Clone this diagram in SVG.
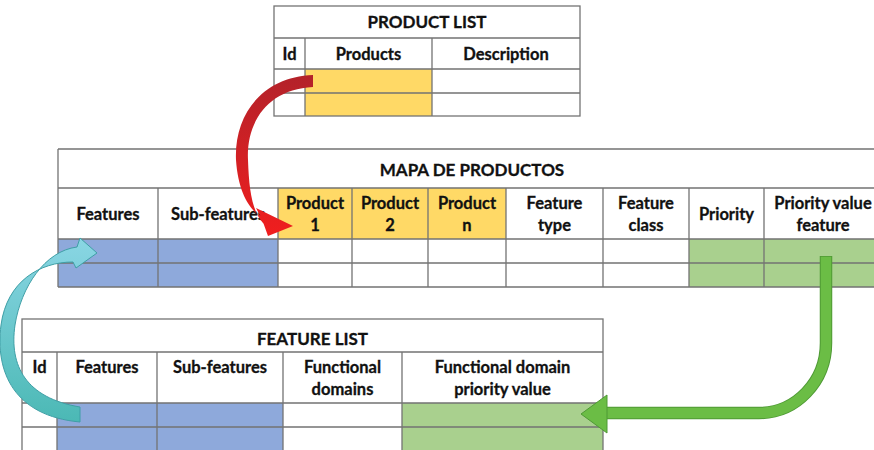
<svg xmlns="http://www.w3.org/2000/svg" width="874" height="450" viewBox="0 0 874 450">
  <style>
    .grid { fill: none; stroke: #737373; stroke-width: 1.3; }
    .t { font-family: Lato, "Liberation Sans", sans-serif; font-weight: bold; font-size: 16.5px; fill: #111; stroke: #111; stroke-width: 0.3; text-anchor: middle; }
    .title { font-size: 17px; }
    .yel { fill: #FFD966; }
    .blu { fill: #8EA9DB; }
    .grn { fill: #A9D08E; }
  </style>
  <defs>
    <linearGradient id="redGrad" gradientUnits="userSpaceOnUse" x1="0" y1="75" x2="0" y2="235">
      <stop offset="0" stop-color="#b3222a"/>
      <stop offset="1" stop-color="#f01e1e"/>
    </linearGradient>
    <linearGradient id="cyanGrad" gradientUnits="userSpaceOnUse" x1="0" y1="238" x2="0" y2="425">
      <stop offset="0" stop-color="#8ad6e4"/>
      <stop offset="1" stop-color="#4ab8b4"/>
    </linearGradient>
  </defs>

  <rect width="874" height="450" fill="#ffffff"/>

  <!-- Product list table -->
  <g id="product-list">
    <rect class="yel" x="305" y="69" width="127" height="47"/>
    <rect class="grid" x="274" y="6" width="306" height="110"/>
    <path class="grid" d="M274,38H580M274,69H580M274,93H580M305,38V116M432,38V116"/>
    <text class="t title" x="427" y="28">PRODUCT LIST</text>
    <text class="t" x="289.5" y="60">Id</text>
    <text class="t" x="368.5" y="60">Products</text>
    <text class="t" x="506" y="60">Description</text>
  </g>

  <!-- Product map table -->
  <g id="mapa-de-productos">
    <rect class="blu" x="58" y="239" width="220" height="48"/>
    <rect class="yel" x="278" y="188" width="228" height="51"/>
    <rect class="grn" x="689" y="239" width="190" height="48"/>
    <path class="grid" d="M58,149H880M58,188H880M58,239H880M58,263H880M58,287H880M58,149V287
      M158,188V287M278,188V287M352,188V287M428,188V287M506,188V287M603,188V287M689,188V287M764,188V287"/>
    <text class="t title" x="472" y="176">MAPA DE PRODUCTOS</text>
    <text class="t" x="108" y="220">Features</text>
    <text class="t" x="218" y="220">Sub-features</text>
    <text class="t" x="315" y="209">Product</text>
    <text class="t" x="315" y="231">1</text>
    <text class="t" x="390" y="209">Product</text>
    <text class="t" x="390" y="231">2</text>
    <text class="t" x="467" y="209">Product</text>
    <text class="t" x="467" y="231">n</text>
    <text class="t" x="554.5" y="209">Feature</text>
    <text class="t" x="554.5" y="231">type</text>
    <text class="t" x="646" y="209">Feature</text>
    <text class="t" x="646" y="231">class</text>
    <text class="t" x="726.5" y="220">Priority</text>
    <text class="t" x="823" y="209">Priority value</text>
    <text class="t" x="823" y="231">feature</text>
  </g>

  <!-- Feature list table -->
  <g id="feature-list">
    <rect class="blu" x="57" y="403" width="226" height="48"/>
    <rect class="grn" x="402" y="403" width="201" height="48"/>
    <rect class="grid" x="22" y="319" width="581" height="132"/>
    <path class="grid" d="M22,352H603M22,403H603M22,427H603M57,352V451M157,352V451M283,352V451M402,352V451"/>
    <text class="t title" x="312.5" y="345">FEATURE LIST</text>
    <text class="t" x="39.5" y="373">Id</text>
    <text class="t" x="107" y="373">Features</text>
    <text class="t" x="220" y="373">Sub-features</text>
    <text class="t" x="342.5" y="373">Functional</text>
    <text class="t" x="342.5" y="395">domains</text>
    <text class="t" x="502.5" y="373">Functional domain</text>
    <text class="t" x="502.5" y="395">priority value</text>
  </g>

  <!-- Connectors -->
  <g id="connectors">
    <!-- products into the map -->
    <path id="arrow-products" fill="url(#redGrad)"
      d="M313,75 C262,77 234,115 236,160 C238,190 248,208 260.4,216.3 L256,208 L293,226 L268,236 L263.6,223.7 C252,211 249,190 248,160 C246,122 268,89 313,87 Z"/>
    <!-- features into the map -->
    <path id="arrow-features" fill="url(#cyanGrad)" stroke="#3f9fa6" stroke-width="1"
      d="M80,422 C14,416 -5,372 1,325 C7,281 40,262 73,262 L76,268 L97,253 L80,238 L77,247 C45,251 21,287 15,325 C9,366 26,398 80,407 Z"/>
    <!-- priority back to feature list -->
    <g id="arrow-priority">
      <path d="M826,256 V343 A67,70 0 0 1 759,413 H606" fill="none" stroke="#4f9a35" stroke-width="12.5"/>
      <path d="M826,256.8 V343 A67,70 0 0 1 759,413 H605" fill="none" stroke="#6bbd45" stroke-width="10.5"/>
      <polygon points="607,395 581,414 607,433" fill="#6bbd45" stroke="#4f9a35" stroke-width="1"/>
    </g>
  </g>
</svg>
